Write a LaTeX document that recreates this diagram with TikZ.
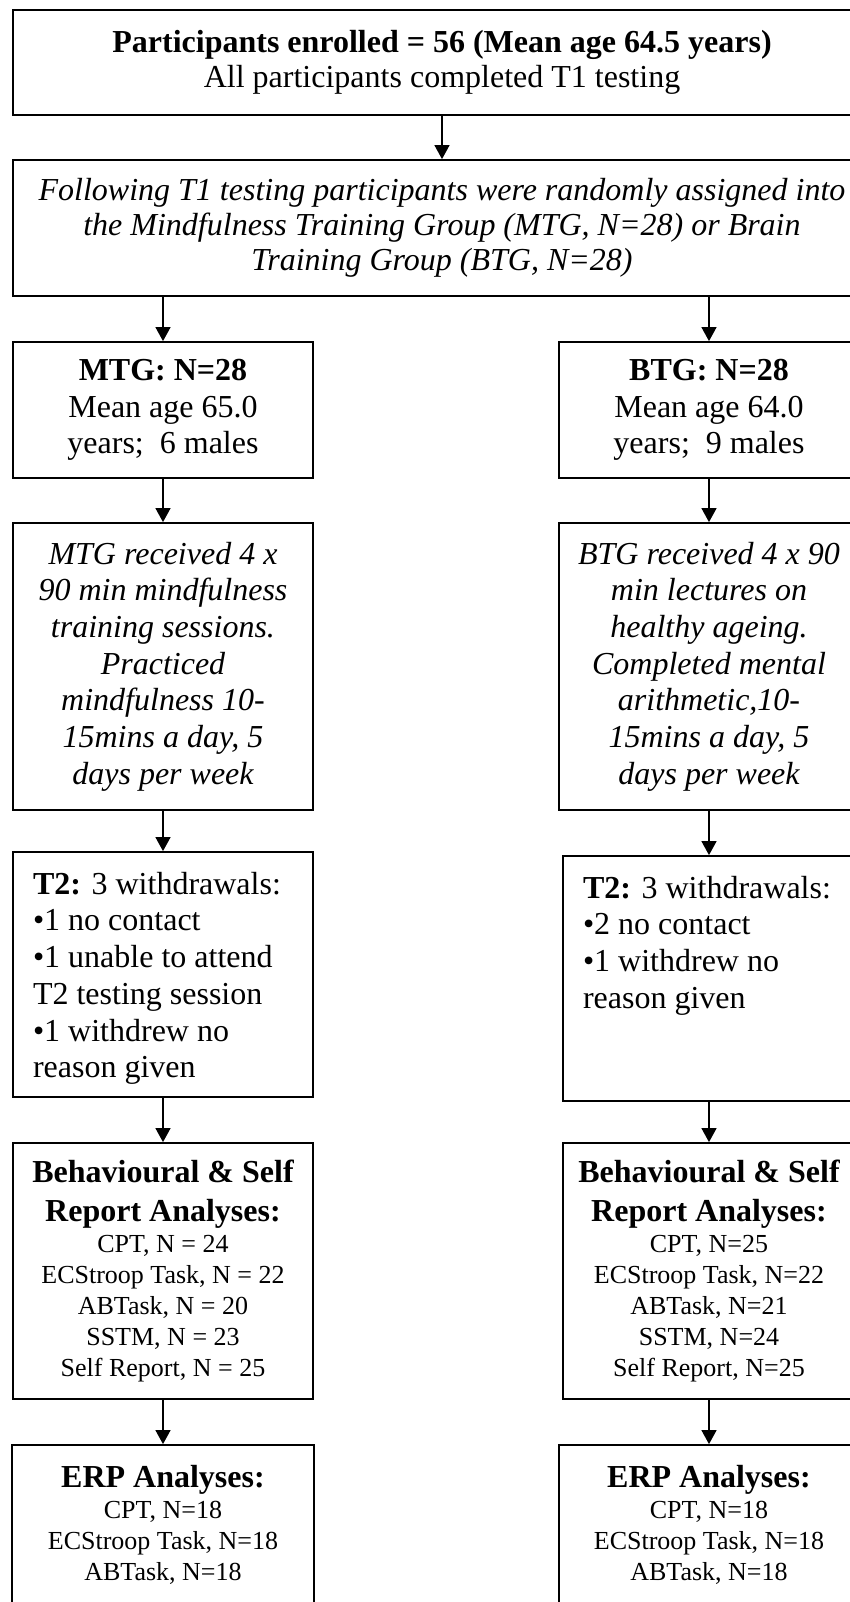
\documentclass[tikz,border=0pt]{standalone}
\usepackage{fontspec}
\setmainfont{Liberation Serif}
\usetikzlibrary{arrows.meta}

\tikzstyle{bS}=[draw, line width=0.9pt, rectangle, inner sep=0pt, align=center]
\tikzstyle{wS}=[bS, minimum width=429pt]
\tikzstyle{cS}=[bS, minimum width=150pt]
\tikzstyle{tS}=[cS, inner sep=10pt]
\tikzstyle{iS}=[font=\fontsize{16}{18.35}\selectfont\itshape]
\tikzstyle{lS}=[font=\fontsize{13}{15.5}\selectfont]
\tikzstyle{aS}=[line width=0.65pt, -{Triangle[length=7pt,width=7.5pt]}]

\newcommand{\topTxt}[3]{\parbox[c][#1][t]{#2}{#3}}
\newcommand{\hdF}{\bfseries\fontsize{16}{18}\selectfont}

\begin{document}
\begin{tikzpicture}[x=0.5pt, y=-0.5pt, font=\fontsize{16}{18.35}\selectfont]
    \useasboundingbox (0,0) rectangle (850,1602);
    \clip (0,0) rectangle (850,1602);
    % top of the chart
    \draw (442,62.5) node[wS, minimum height=52.5pt, font=\fontsize{16}{17.5}\selectfont] (enrol) {\textbf{Participants enrolled = 56 (Mean age 64.5 years)}\\All participants completed T1 testing};
    \draw (442,228) node[wS, minimum height=68pt, font=\fontsize{16}{17.5}\selectfont\itshape] (assign) {Following T1 testing participants were randomly assigned into\\the Mindfulness Training Group (MTG, N=28) or Brain\\Training Group (BTG, N=28)};
    % groups
    \draw (163,410) node[cS, minimum height=68pt] (mtg) {\textbf{MTG: N=28}\\Mean age 65.0\\years;\ \ 6 males};
    \draw (709,410) node[cS, minimum height=68pt] (btg) {\textbf{BTG: N=28}\\Mean age 64.0\\years;\ \ 9 males};
    \draw (163,666.5) node[cS, iS, minimum height=143.5pt] (mtgInt) {MTG received 4 x\\90 min mindfulness\\training sessions.\\Practiced\\mindfulness 10-\\15mins a day, 5\\days per week};
    \draw (709,666.5) node[cS, iS, minimum height=143.5pt] (btgInt) {BTG received 4 x 90\\min lectures on\\healthy ageing.\\Completed mental\\arithmetic,10-\\15mins a day, 5\\days per week};
    % withdrawals
    \draw (163,974.5) node[tS] (mtgT2) {\topTxt{102.5pt}{130pt}{\raggedright\textbf{T2:} 3 withdrawals:\\•1 no contact\\•1 unable to attend\\T2 testing session\\•1 withdrew no\\reason given}};
    \draw (709,978.5) node[tS, minimum width=146pt] (btgT2) {\topTxt{102.5pt}{126pt}{\raggedright\textbf{T2:} 3 withdrawals:\\•2 no contact\\•1 withdrew no\\reason given}};
    % analyses
    \draw (163,1271) node[cS, lS, minimum height=128pt] (mtgBeh) {{\hdF Behavioural \& Self}\\[4pt]{\hdF Report Analyses:}\\CPT, N = 24\\ECStroop Task, N = 22\\ABTask, N = 20\\SSTM, N = 23\\Self Report, N = 25};
    \draw (709,1271) node[cS, lS, minimum width=146pt, minimum height=128pt] (btgBeh) {{\hdF Behavioural \& Self}\\[4pt]{\hdF Report Analyses:}\\CPT, N=25\\ECStroop Task, N=22\\ABTask, N=21\\SSTM, N=24\\Self Report, N=25};
    \draw (163,1545) node[tS, lS] (mtgErp) {\topTxt{80pt}{131pt}{\centering{\hdF ERP Analyses:}\\CPT, N=18\\ECStroop Task, N=18\\ABTask, N=18}};
    \draw (709,1545) node[tS, lS] (btgErp) {\topTxt{80pt}{130pt}{\centering{\hdF ERP Analyses:}\\CPT, N=18\\ECStroop Task, N=18\\ABTask, N=18}};
    \path
        (enrol) edge[aS] (assign)
        (assign.south -| mtg.north) edge[aS] (mtg)
        (assign.south -| btg.north) edge[aS] (btg)
        (mtg) edge[aS] (mtgInt)
        (btg) edge[aS] (btgInt)
        (mtgInt) edge[aS] (mtgT2)
        (btgInt) edge[aS] (btgT2)
        (mtgT2) edge[aS] (mtgBeh)
        (btgT2) edge[aS] (btgBeh)
        (mtgBeh) edge[aS] (mtgErp)
        (btgBeh) edge[aS] (btgErp)
    ;
\end{tikzpicture}
\end{document}
